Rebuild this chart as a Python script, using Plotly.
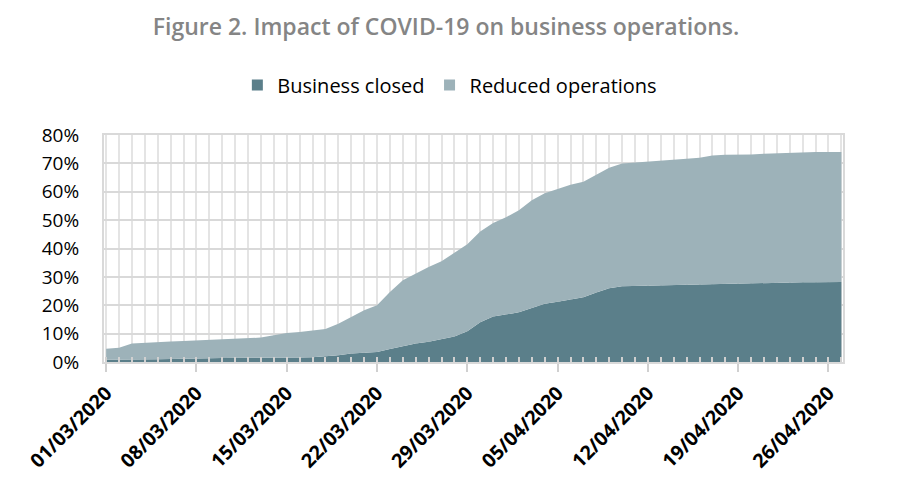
import plotly.graph_objects as go
import pandas as pd

dates = pd.date_range("2020-03-01", "2020-04-27", freq="D")

business_closed = [
    0.8, 0.8, 0.9, 1.0, 1.0, 1.1, 1.1, 1.2, 1.3, 1.4,
    1.4, 1.4, 1.5, 1.5, 1.5, 1.6, 1.7, 2.0, 2.4, 3.0,
    3.3, 3.5, 4.6, 5.5, 6.5, 7.1, 8.0, 9.0, 10.8, 14.0,
    16.0, 16.8, 17.5, 19.0, 20.5, 21.2, 22.0, 22.8, 24.5, 26.0,
    26.7, 26.8, 27.0, 27.1, 27.2, 27.3, 27.4, 27.6, 27.7, 27.8,
    27.9, 27.9, 28.0, 28.0, 28.1, 28.1, 28.2, 28.2,
]

reduced_operations = [
    3.9, 4.2, 5.6, 5.8, 6.0, 6.1, 6.3, 6.4, 6.5, 6.6,
    6.8, 7.0, 7.1, 7.9, 8.7, 9.0, 9.3, 9.6, 11.1, 13.0,
    14.9, 16.5, 20.1, 23.3, 24.7, 26.4, 27.5, 29.5, 30.7, 32.0,
    33.0, 34.2, 36.0, 38.0, 39.0, 39.8, 40.5, 40.7, 41.5, 42.5,
    43.3, 43.5, 43.5, 43.7, 44.0, 44.3, 44.6, 45.2, 45.3, 45.2,
    45.2, 45.5, 45.6, 45.7, 45.8, 45.9, 45.8, 45.8,
]

tick_dates = ["2020-03-01", "2020-03-08", "2020-03-15", "2020-03-22", "2020-03-29",
              "2020-04-05", "2020-04-12", "2020-04-19", "2020-04-26"]
tick_labels = ["01/03/2020", "08/03/2020", "15/03/2020", "22/03/2020", "29/03/2020",
               "05/04/2020", "12/04/2020", "19/04/2020", "26/04/2020"]

y_ticks = [0, 10, 20, 30, 40, 50, 60, 70, 80]
y_labels = ["0%", "10%", "20%", "30%", "40%", "50%", "60%", "70%", "80%"]

FONT = "Open Sans"
DARK = "#5b7f8a"
LIGHT = "#9db2b9"

fig = go.Figure()
fig.add_trace(go.Scatter(
    x=dates, y=business_closed, name="Business closed",
    stackgroup="one", mode="lines", line=dict(width=0, color=DARK),
    fillcolor=DARK, showlegend=False,
))
fig.add_trace(go.Scatter(
    x=dates, y=reduced_operations, name="Reduced operations",
    stackgroup="one", mode="lines", line=dict(width=0, color=LIGHT),
    fillcolor=LIGHT, showlegend=False,
))
# legend entries with square swatches
fig.add_trace(go.Scatter(
    x=[None], y=[None], mode="markers", name="Business closed",
    marker=dict(symbol="square", size=11, color=DARK),
))
fig.add_trace(go.Scatter(
    x=[None], y=[None], mode="markers", name="Reduced operations",
    marker=dict(symbol="square", size=11, color=LIGHT),
))

fig.update_layout(
    width=907, height=495,
    margin=dict(l=96, r=72, t=127, b=141),
    paper_bgcolor="white", plot_bgcolor="white",
    font=dict(family=FONT, color="black", size=18),
    title=dict(text="Figure 2. Impact of COVID-19 on business operations.",
               x=0.483, xanchor="center", y=0.962, yanchor="middle",
               font=dict(family=FONT, size=23, color="#858585", weight=600)),
    legend=dict(orientation="h", x=0.468, xanchor="center", y=1.22, yanchor="middle",
                font=dict(family=FONT, size=20, color="black"),
                itemwidth=30, traceorder="normal", bgcolor="rgba(0,0,0,0)"),
    showlegend=True,
)

fig.update_xaxes(
    type="date", automargin=False,
    range=["2020-02-29 20:00", "2020-04-27 03:00"],
    tickmode="array", tickvals=tick_dates, ticktext=tick_labels,
    tickangle=-45,
    tickfont=dict(family=FONT, size=19.5, color="black", weight="bold"),
    ticks="outside", ticklen=8, tickcolor="#d0d0d0", tickwidth=2,
    ticklabelstandoff=2,
    showgrid=True, gridcolor="#e4e4e4", gridwidth=1.5,
    minor=dict(dtick=86400000, tick0="2020-03-01", showgrid=True,
               gridcolor="#e4e4e4", gridwidth=1.5,
               ticks="inside", ticklen=5, tickcolor="#d0d0d0", tickwidth=1.5),
    showline=True, linecolor="#d9d9d9", linewidth=2, mirror=True,
    zeroline=False,
)
fig.update_yaxes(
    range=[0, 80], automargin=False,
    tickmode="array", tickvals=y_ticks, ticktext=y_labels,
    tickfont=dict(family=FONT, size=19, color="black"),
    ticks="", ticklen=0, ticklabelstandoff=19,
    showgrid=True, gridcolor="#d9d9d9", gridwidth=2,
    showline=True, linecolor="#d9d9d9", linewidth=2, mirror=True,
    zeroline=False,
)

fig.write_html("out.html")
